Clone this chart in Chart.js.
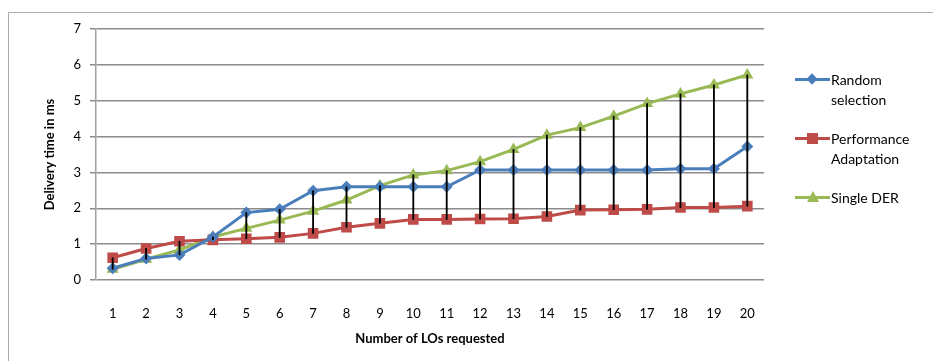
<!DOCTYPE html>
<html lang="en">
<head>
<meta charset="UTF-8">
<title>Delivery time</title>
<script src="https://cdn.jsdelivr.net/npm/chart.js"></script>
<style>
  html, body { margin: 0; padding: 0; background: #fff; overflow: hidden; }
  #wrap { position: relative; width: 933px; height: 361px; overflow: hidden; }
  #frame { position: absolute; left: 8px; top: 12px; width: 1000px; height: 500px; border: 1.5px solid #ababab; }
  #chart { position: absolute; left: 0; top: 0; }
  #legend { position: absolute; left: 795px; top: 70px; font-family: Lato, sans-serif; font-size: 14px; color: #000; }
  .item { position: relative; height: 20px; }
  .item .txt { position: absolute; left: 36px; top: 0; line-height: 20px; white-space: nowrap; }
  .item .ln { position: absolute; left: 0; top: 8px; width: 35px; height: 3px; }
  .item .mk { position: absolute; }
</style>
</head>
<body>
<div id="wrap">
  <div id="frame"></div>
  <canvas id="chart" width="933" height="361"></canvas>
  <div id="legend"></div>
</div>
<script>
const categories = ['1','2','3','4','5','6','7','8','9','10','11','12','13','14','15','16','17','18','19','20'];
const randomSelection = [0.33, 0.6, 0.7, 1.2, 1.88, 1.97, 2.49, 2.6, 2.6, 2.6, 2.6, 3.07, 3.07, 3.07, 3.07, 3.07, 3.07, 3.1, 3.1, 3.72];
const performanceAdaptation = [0.62, 0.88, 1.08, 1.12, 1.15, 1.19, 1.3, 1.47, 1.58, 1.69, 1.69, 1.7, 1.71, 1.77, 1.95, 1.96, 1.97, 2.02, 2.02, 2.06];
const singleDER = [0.3, 0.58, 0.84, 1.2, 1.44, 1.67, 1.92, 2.23, 2.63, 2.93, 3.05, 3.3, 3.64, 4.04, 4.25, 4.57, 4.92, 5.19, 5.44, 5.72];
const seriesNames = ['Random selection', 'Performance Adaptation', 'Single DER'];
const yTicks = [0, 1, 2, 3, 4, 5, 6, 7];

const BLUE = '#4a7ebb', RED = '#be4b48', GREEN = '#98b954';

// high-low lines between the lowest and highest series at each category
const highLow = categories.map((c, i) => {
  const v = [randomSelection[i], performanceAdaptation[i], singleDER[i]];
  return [Math.min(...v), Math.max(...v)];
});

function lineSet(label, data, color, style, radius) {
  return {
    type: 'line', label, data, order: 1,
    borderColor: color, backgroundColor: color, borderWidth: 3,
    pointStyle: style, pointRadius: radius, pointHoverRadius: radius,
    pointBorderWidth: 0, tension: 0
  };
}

new Chart(document.getElementById('chart'), {
  type: 'line',
  data: {
    labels: categories,
    datasets: [
      { type: 'bar', label: 'hl', data: highLow, order: 0, backgroundColor: '#000', barThickness: 1.2 },
      lineSet(seriesNames[0], randomSelection, BLUE, 'rectRot', 6),
      lineSet(seriesNames[1], performanceAdaptation, RED, 'rect', 7.5),
      lineSet(seriesNames[2], singleDER, GREEN, 'triangle', 7)
    ]
  },
  options: {
    responsive: false,
    animation: false,
    layout: { padding: { left: 38, top: 29, right: 169, bottom: 10 } },
    plugins: { legend: { display: false }, tooltip: { enabled: false } },
    scales: {
      x: {
        offset: true,
        grid: { display: false },
        border: { display: false },
        ticks: { color: '#000', padding: 18, font: { family: 'Lato', size: 13 } },
        title: { display: true, text: 'Number of LOs requested', color: '#000', font: { family: 'Lato', size: 13, weight: 'bold' } },
        afterFit: s => { s.height = 71; }
      },
      y: {
        min: 0, max: 7,
        afterBuildTicks: s => { s.ticks = yTicks.map(v => ({ value: v })); },
        grid: { color: '#8c8c8c', lineWidth: 1.5, tickLength: 6 },
        border: { color: '#a0a0a0', width: 1.5 },
        ticks: { color: '#000', padding: 9, font: { family: 'Lato', size: 13 } },
        title: { display: true, text: 'Delivery time in ms', color: '#000', font: { family: 'Lato', size: 13, weight: 'bold' } },
        afterFit: s => { s.width = 58; }
      }
    }
  }
});

// legend with wrapped labels
const legendItems = [
  { text: ['Random', 'selection'], color: BLUE, mk: 'diamond' },
  { text: ['Performance', 'Adaptation'], color: RED, mk: 'square' },
  { text: ['Single DER'], color: GREEN, mk: 'triangle' }
];
const legend = document.getElementById('legend');
legendItems.forEach((it, k) => {
  const d = document.createElement('div');
  d.className = 'item';
  d.style.marginBottom = k < 2 ? '19px' : '0';
  d.style.height = (it.text.length * 20) + 'px';
  let mk = '';
  if (it.mk === 'diamond') mk = `<div class="mk" style="left:13px;top:5px;width:8px;height:8px;background:${it.color};transform:rotate(45deg)"></div>`;
  if (it.mk === 'square') mk = `<div class="mk" style="left:12px;top:4px;width:11px;height:11px;background:${it.color}"></div>`;
  if (it.mk === 'triangle') mk = `<div class="mk" style="left:12px;top:3px;width:0;height:0;border-left:6px solid transparent;border-right:6px solid transparent;border-bottom:11px solid ${it.color}"></div>`;
  d.innerHTML = `<div class="ln" style="background:${it.color}"></div>${mk}<div class="txt">${it.text.join('<br>')}</div>`;
  legend.appendChild(d);
});
</script>
</body>
</html>
